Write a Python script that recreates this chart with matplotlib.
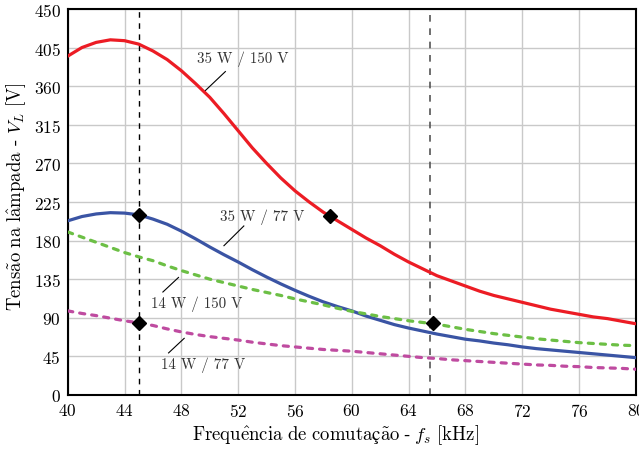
#!/usr/bin/env python3
"""Tensão na lâmpada versus frequência de comutação."""

import matplotlib

matplotlib.use("Agg")
import matplotlib.pyplot as plt

# curves, one point per kHz
freq = list(range(40, 81))
v_35w_150v = [395, 405, 411, 414, 413, 409, 401, 391, 378, 363, 347, 328, 308, 288, 270, 253,
              238, 225, 213, 203, 193, 183, 174, 164, 155, 147, 139, 133, 127, 121, 116, 112,
              108, 104, 100, 97, 94, 91, 89, 86, 83]
v_35w_77v = [203, 208, 211, 212.5, 212, 210, 205, 199, 191, 182, 172.5, 163.5, 155, 146, 137.5, 129.5,
             122, 115, 108.5, 103, 98, 92, 87, 82, 78, 74.5, 71, 68, 65, 63, 60.5, 58.5,
             56, 54, 52.5, 51, 49.5, 48, 46.5, 45, 43.5]
v_14w_150v = [190, 184, 178, 172, 166, 161, 156.5, 150.5, 145, 140, 135, 131, 127, 123, 119.5, 116,
              112, 108.5, 105, 101, 97.5, 94.5, 91.5, 89, 86.5, 84.5, 82.5, 79.5, 76.5, 74, 71.5, 69.5,
              67.5, 65.5, 64, 62.5, 61, 60, 59, 58, 57.5]
v_14w_77v = [98, 95, 92.5, 89.5, 86.5, 84, 81, 77, 73.5, 70.5, 68, 66, 64, 61.5, 59.5, 57.5,
             56, 54.5, 53, 52, 51, 49.5, 48, 46.5, 45, 43.5, 42.5, 41, 40, 39, 38, 37,
             36, 35, 34.5, 33.5, 33, 32, 31.5, 31, 30]

# operating points and the two marked frequencies
points_f = [45, 45, 58.45, 65.75]
points_v = [210, 84, 209, 83.5]
f_min, f_max = 45, 65.5

labels = ["35 W / 150 V", "35 W / 77 V", "14 W / 150 V", "14 W / 77 V"]
label_xy = [(52.3, 392), (53.7, 208), (49.1, 107), (49.5, 36)]
leader_from = [(51.1, 377), (52.4, 197), (47.8, 137), (48.2, 66)]
leader_to = [(49.7, 355), (51.0, 174), (46.7, 120), (47.1, 49)]

RED = "#ec1c24"
BLUE = "#3a54a4"
GREEN = "#6cbf45"
MAGENTA = "#bf4ba0"
GRID = "#c9c9c9"

plt.rcParams.update(
    {
        "font.family": ["cmr10", "STIXGeneral"],
        "mathtext.fontset": "cm",
        "axes.formatter.use_mathtext": True,
        "font.size": 12.5,
    }
)

fig = plt.figure(figsize=(6.39, 4.52), dpi=100)
ax = fig.add_axes([0.106, 0.124, 0.889, 0.854])

ax.plot(freq, v_35w_150v, color=RED, lw=2.3, zorder=3)
ax.plot(freq, v_35w_77v, color=BLUE, lw=2.3, zorder=3)
ax.plot(freq, v_14w_150v, color=GREEN, lw=2.3, dashes=(1.6, 2.2), dash_capstyle="round", zorder=3)
ax.plot(freq, v_14w_77v, color=MAGENTA, lw=2.3, dashes=(1.6, 2.2), dash_capstyle="round", zorder=3)

ax.axvline(f_min, color="black", lw=1.0, dashes=(4, 4), zorder=2)
ax.axvline(f_max, color="#555555", lw=1.2, dashes=(4, 4), zorder=2)
ax.plot(points_f, points_v, "D", color="black", ms=7, zorder=4)

for text, xy, p0, p1 in zip(labels, label_xy, leader_from, leader_to):
    ax.text(xy[0], xy[1], text, ha="center", va="center", fontsize=10.8, color="#333333")
    ax.plot([p0[0], p1[0]], [p0[1], p1[1]], color="black", lw=0.8, zorder=3)

ax.set_xlim(40, 80)
ax.set_ylim(0, 450)
ax.set_xticks(range(40, 81, 4))
ax.set_yticks(range(0, 451, 45))
ax.tick_params(length=0, pad=5, labelsize=12.5)
ax.grid(color=GRID, lw=1.0)
ax.set_axisbelow(True)
for spine in ax.spines.values():
    spine.set_linewidth(1.5)

# cmr10 has no accented glyphs: accents via mathtext, the cedilla from STIX
ax.set_xlabel(
    r"$\mathrm{Frequ\hat{e}ncia\ de\ comuta}$ç$\mathrm{\tilde{a}o}$ - $f_s\ \mathrm{[kHz]}$",
    fontsize=13.5, fontfamily="STIXGeneral",
)
ax.set_ylabel(
    r"$\mathrm{Tens\tilde{a}o\ na\ l\hat{a}mpada}$ - $V_L\ \mathrm{[V]}$",
    fontsize=13.5,
)
ax.xaxis.set_label_coords(0.472, -0.07)
ax.yaxis.set_label_coords(-0.07, 0.515)

fig.savefig("out.png", dpi=100)
